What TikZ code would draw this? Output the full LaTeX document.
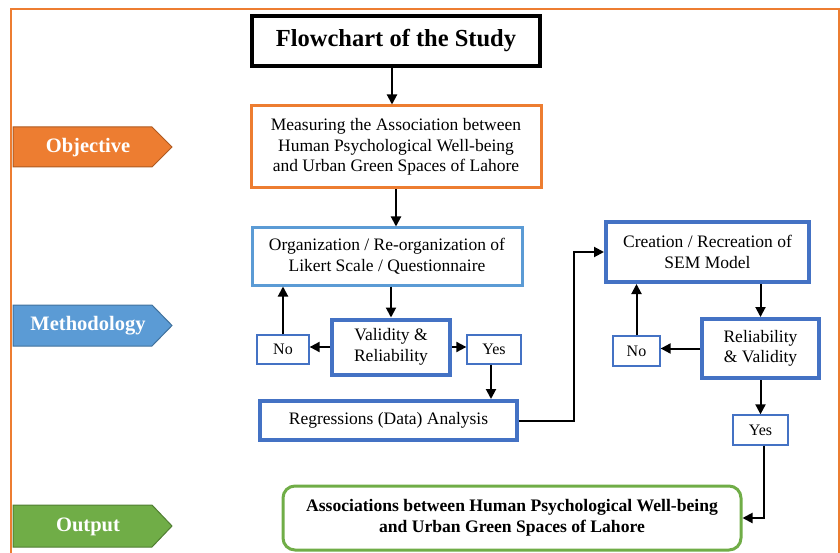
\documentclass[tikz,border=0pt]{standalone}
\usepackage{fontspec}
\setmainfont{Liberation Serif}
\usetikzlibrary{arrows.meta}
\definecolor{objorange}{RGB}{237,125,49}
\definecolor{objedge}{RGB}{174,90,33}
\definecolor{lightblue}{RGB}{91,155,213}
\definecolor{metedge}{RGB}{65,113,156}
\definecolor{darkblue}{RGB}{68,114,196}
\definecolor{outgreen}{RGB}{112,173,71}
\definecolor{outedge}{RGB}{80,126,50}

\begin{document}
\begin{tikzpicture}[x=1pt, y=-1pt,
    box/.style={draw=darkblue, line width=4, inner sep=0, align=center,
        font=\fontsize{17.5}{20.5}\selectfont},
    small/.style={draw=darkblue, line width=1.3, inner sep=0,
        minimum width=52, minimum height=29, font=\fontsize{16}{18}\selectfont},
    tag/.style={text=white, font=\fontsize{20.5}{24}\selectfont\bfseries},
    arr/.style={-{Triangle[length=10,width=10]}, line width=2}]
        \useasboundingbox (0,0) rectangle (840,553);
        \draw[objorange, line width=2] (11,553) -- (11,9) -- (839,9) -- (839,553);

        % side tags
        \filldraw[fill=objorange, draw=objedge, line width=1](13,127)--(152,127)--(172,147)--(152,167)--(13,167)--cycle;
        \filldraw[fill=lightblue, draw=metedge, line width=1](13,305)--(152,305)--(172,325.5)--(152,346)--(13,346)--cycle;
        \filldraw[fill=outgreen, draw=outedge, line width=1](13,505)--(152,505)--(172,526)--(152,547)--(13,547)--cycle;
        \node[tag] (objective) at (88,148) {Objective};
        \node[tag] (methodology) at (88,326) {Methodology};
        \node[tag] (output) at (88,527) {Output};

        \node[box, draw=black, line width=3.5, minimum width=288, minimum height=50,
            font=\fontsize{24.5}{28}\selectfont\bfseries] (title) at (396,41) {Flowchart of the Study};
        \node[box, draw=objorange, line width=3, minimum width=290, minimum height=82] (aim) at (396,147)
            {Measuring the Association between\\Human Psychological Well-being\\and Urban Green Spaces of Lahore};
        \node[box, draw=lightblue, line width=3, minimum width=270, minimum height=57] (likert) at (387,256.5)
            {Organization / Re-organization of\\Likert Scale / Questionnaire};
        \node[box, minimum width=118, minimum height=55] (valid) at (391,347) {Validity \&\\Reliability};
        \node[small] (noA) at (283,349.5) {No};
        \node[small, minimum width=54] (yesA) at (494,349.5) {Yes};
        \node[box, minimum width=257, minimum height=39] (regress) at (388.5,420.5) {Regressions (Data) Analysis};
        \node[box, minimum width=203, minimum height=60] (sem) at (707.5,252) {Creation / Recreation of\\SEM Model};
        \node[box, minimum width=117, minimum height=59] (reliab) at (760.5,348.5) {Reliability\\\& Validity};
        \node[small, minimum width=47, minimum height=30] (noB) at (636.5,351) {No};
        \node[small, minimum width=55, minimum height=30] (yesB) at (760.5,430) {Yes};
        \node[box, draw=outgreen, line width=3, rounded corners=12, minimum width=458, minimum height=64,
            font=\fontsize{17.6}{21}\selectfont\bfseries] (result) at (512,518)
            {Associations between Human Psychological Well-being\\and Urban Green Spaces of Lahore};

        \draw[arr] ([xshift=-4]title.south) -- ([xshift=-4]title.south |- aim.north);
        \draw[arr] (aim.south) -- (aim.south |- likert.north);
        \draw[arr] (valid.north |- likert.south) -- (valid.north);
        \draw[arr] (valid.west) -- (valid.west -| noA.east);
        \draw[arr] (noA.north) -- (noA.north |- likert.south);
        \draw[arr] (valid.east) -- (valid.east -| yesA.west);
        \draw[arr] ([xshift=-3]yesA.south) -- ([xshift=-3]yesA.south |- regress.north);
        \draw[arr] (regress.east) -- ++(55,0) |- (sem.west);
        \draw[arr] (reliab.north |- sem.south) -- (reliab.north);
        \draw[arr] (reliab.west) -- (reliab.west -| noB.east);
        \draw[arr] (noB.north) -- (noB.north |- sem.south);
        \draw[arr] (reliab.south) -- (yesB.north);
        \draw[arr] ([xshift=3]yesB.south) |- (result.east);
\end{tikzpicture}
\end{document}
